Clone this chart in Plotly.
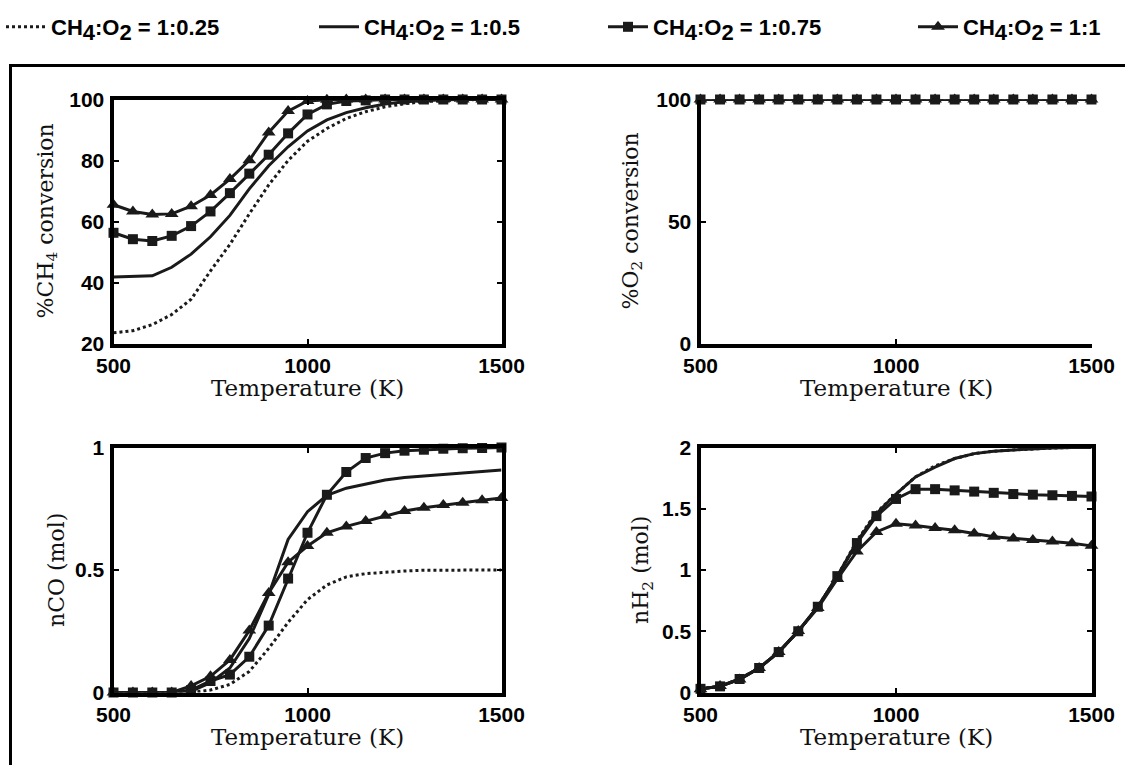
import plotly.graph_objects as go

# ---------------- data ----------------
temperature = [500, 550, 600, 650, 700, 750, 800, 850, 900, 950, 1000,
               1050, 1100, 1150, 1200, 1250, 1300, 1350, 1400, 1450, 1500]

ratios = ["1:0.25", "1:0.5", "1:0.75", "1:1"]

# % CH4 conversion
ch4_r025 = [23.5, 24.2, 26.2, 29.5, 34.5, 43.8, 52.5, 62.5, 72.0, 80.0, 86.3,
            90.5, 93.8, 96.0, 97.6, 98.6, 99.3, 99.7, 99.9, 100.0, 100.0]
ch4_r050 = [41.8, 41.9, 42.2, 45.0, 49.3, 55.0, 62.0, 70.7, 78.3, 84.5, 89.7,
            93.3, 95.7, 97.3, 98.5, 99.3, 99.7, 99.9, 100.0, 100.0, 100.0]
ch4_r075 = [56.3, 54.2, 53.6, 55.3, 58.5, 63.3, 69.3, 75.7, 81.9, 88.9, 95.1,
            98.4, 99.5, 99.7, 100.0, 100.0, 100.0, 100.0, 100.0, 100.0, 100.0]
ch4_r100 = [65.5, 63.3, 62.3, 62.5, 65.0, 68.7, 73.9, 80.1, 89.2, 96.2, 99.5,
            99.9, 100.0, 100.0, 100.0, 100.0, 100.0, 100.0, 100.0, 100.0, 100.0]

# % O2 conversion
o2_r025 = [100.0] * 21
o2_r050 = [100.0] * 21
o2_r075 = [100.0] * 21
o2_r100 = [100.0] * 21

# nCO (mol)
co_r025 = [0.0, 0.0, 0.0, 0.0, 0.0, 0.01, 0.033, 0.086, 0.18, 0.286, 0.379,
           0.439, 0.472, 0.485, 0.492, 0.496, 0.499, 0.5, 0.5, 0.5, 0.5]
co_r050 = [0.0, 0.0, 0.0, 0.0, 0.005, 0.04, 0.10, 0.22, 0.40, 0.625, 0.738,
           0.805, 0.834, 0.851, 0.867, 0.878, 0.884, 0.891, 0.898, 0.903, 0.908]
co_r075 = [0.0, 0.0, 0.0, 0.0, 0.01, 0.047, 0.073, 0.146, 0.273, 0.465, 0.652,
           0.807, 0.90, 0.957, 0.977, 0.987, 0.991, 0.995, 0.997, 0.998, 1.0]
co_r100 = [0.0, 0.0, 0.0, 0.0, 0.027, 0.066, 0.133, 0.253, 0.406, 0.532, 0.598,
           0.652, 0.678, 0.70, 0.721, 0.741, 0.754, 0.765, 0.775, 0.785, 0.794]

# nH2 (mol)
h2_r025 = [0.03, 0.05, 0.11, 0.20, 0.33, 0.50, 0.70, 0.95, 1.24, 1.47, 1.62,
           1.76, 1.85, 1.91, 1.95, 1.97, 1.98, 1.99, 1.995, 2.0, 2.0]
h2_r050 = [0.03, 0.05, 0.11, 0.20, 0.33, 0.50, 0.70, 0.95, 1.23, 1.46, 1.62,
           1.76, 1.84, 1.91, 1.95, 1.97, 1.98, 1.99, 1.995, 2.0, 2.0]
h2_r075 = [0.03, 0.05, 0.11, 0.20, 0.33, 0.50, 0.70, 0.95, 1.22, 1.44, 1.58,
           1.66, 1.66, 1.65, 1.64, 1.63, 1.62, 1.615, 1.61, 1.605, 1.60]
h2_r100 = [0.026, 0.053, 0.106, 0.199, 0.331, 0.503, 0.689, 0.927, 1.152, 1.311, 1.377,
           1.364, 1.343, 1.325, 1.298, 1.272, 1.258, 1.245, 1.232, 1.219, 1.197]

x_ticks = [500, 1000, 1500]
y_ticks_ch4 = [20, 40, 60, 80, 100]
y_ticks_o2 = [0, 50, 100]
y_ticks_co = [0, 0.5, 1]
y_ticks_h2 = [0, 0.5, 1, 1.5, 2]

# ---------------- style ----------------
W, H = 1125, 765
INK = "#1a1a1a"
LW = 3
SANS = "Liberation Sans, Arial, sans-serif"
LEG_SIZE = 22

styles = [
    dict(line=dict(color=INK, width=LW, dash="dot"), mode="lines"),
    dict(line=dict(color=INK, width=LW), mode="lines"),
    dict(line=dict(color=INK, width=LW), mode="lines+markers",
         marker=dict(symbol="square", size=10, color=INK)),
    dict(line=dict(color=INK, width=LW), mode="lines+markers",
         marker=dict(symbol="triangle-up", size=12, color=INK)),
]


def sub_full(s):
    return "<sub><span style='font-size:%dpx'>%s</span></sub>" % (LEG_SIZE, s)


series_names = ["CH" + sub_full("4") + ":O" + sub_full("2") + " = " + r
                for r in ratios]


def px_x(p):
    return p / W


def px_y(p):
    return 1 - p / H


col1 = [px_x(113.5), px_x(501.5)]
col2 = [px_x(700.5), px_x(1091.5)]
row1 = [px_y(343.5), px_y(99.5)]
row2 = [px_y(692.5), px_y(447.5)]

fig = go.Figure()

legend_ids = ["legend", "legend2", "legend3", "legend4"]

panels = [
    ("x", "y", [ch4_r025, ch4_r050, ch4_r075, ch4_r100], [0, 1, 2, 3]),
    ("x2", "y2", [o2_r025, o2_r050, o2_r075, o2_r100], [0, 1, 3, 2]),
    ("x3", "y3", [co_r025, co_r050, co_r075, co_r100], [0, 1, 2, 3]),
    ("x4", "y4", [h2_r025, h2_r050, h2_r075, h2_r100], [0, 1, 2, 3]),
]

for pi, (xa, ya, data, order) in enumerate(panels):
    for k in order:
        fig.add_trace(go.Scatter(
            x=temperature, y=data[k], name=series_names[k],
            xaxis=xa, yaxis=ya, showlegend=(pi == 0), legend=legend_ids[k],
            cliponaxis=False, hoverinfo="skip", **styles[k]))

tickfont = dict(family=SANS, size=21, color="#000", weight="bold")


def xaxis(domain, anchor, mirror=True):
    return dict(domain=domain, anchor=anchor, range=[500, 1500],
                tickvals=x_ticks, ticks="inside", ticklen=5, tickwidth=2,
                tickcolor="#000", showline=True, linewidth=4, linecolor="#000",
                mirror="allticks" if mirror else False, showgrid=False,
                zeroline=False, tickfont=tickfont, ticklabelstandoff=0,
                automargin=False, fixedrange=True)


def yaxis(domain, anchor, rng, vals, mirror=True):
    return dict(domain=domain, anchor=anchor, range=rng, tickvals=vals,
                ticks="inside", ticklen=5, tickwidth=2, tickcolor="#000",
                showline=True, linewidth=4, linecolor="#000",
                mirror="allticks" if mirror else False, showgrid=False,
                zeroline=False, tickfont=tickfont, ticklabelstandoff=1,
                automargin=False, fixedrange=True)


leg_font = dict(family=SANS, size=LEG_SIZE, color="#000", weight="bold")
legend_x_px = [1, 314, 603, 913]


def legend_box(xp):
    return dict(orientation="h", x=px_x(xp), xanchor="left", y=px_y(6),
                yanchor="top", itemwidth=40, font=leg_font,
                bgcolor="rgba(0,0,0,0)", borderwidth=0)


fig.update_layout(
    template="none",
    width=W, height=H, autosize=False,
    margin=dict(l=0, r=0, t=0, b=0, pad=0, autoexpand=False),
    paper_bgcolor="white", plot_bgcolor="white",
    xaxis=xaxis(col1, "y"),
    yaxis=yaxis(row1, "x", [20, 100], y_ticks_ch4),
    xaxis2=xaxis(col2, "y2", mirror=False),
    yaxis2=yaxis(row1, "x2", [0, 100], y_ticks_o2, mirror=False),
    xaxis3=xaxis(col1, "y3"),
    yaxis3=yaxis(row2, "x3", [0, 1], y_ticks_co),
    xaxis4=xaxis(col2, "y4"),
    yaxis4=yaxis(row2, "x4", [0, 2], y_ticks_h2),
    legend=legend_box(legend_x_px[0]),
    legend2=legend_box(legend_x_px[1]),
    legend3=legend_box(legend_x_px[2]),
    legend4=legend_box(legend_x_px[3]),
)

# outer frame of the figure panel
fig.add_shape(type="rect", xref="paper", yref="paper",
              x0=px_x(10.5), x1=1.05, y0=-0.05, y1=px_y(65.5),
              line=dict(color="#000", width=3), fillcolor="rgba(0,0,0,0)",
              layer="below")

xt_font = dict(family="DejaVu Serif, serif", size=23, color="#111")
yt_font = dict(family="DejaVu Serif, serif", size=22, color="#111")
titles = [
    ("Temperature (K)", (col1[0] + col1[1]) / 2, px_y(388), 0, xt_font),
    ("Temperature (K)", (col2[0] + col2[1]) / 2, px_y(388), 0, xt_font),
    ("Temperature (K)", (col1[0] + col1[1]) / 2, px_y(737), 0, xt_font),
    ("Temperature (K)", (col2[0] + col2[1]) / 2, px_y(737), 0, xt_font),
    ("%CH<sub>4</sub> conversion", px_x(47), (row1[0] + row1[1]) / 2, -90, yt_font),
    ("%O<sub>2</sub> conversion", px_x(632), (row1[0] + row1[1]) / 2, -90, yt_font),
    ("nCO (mol)", px_x(56), (row2[0] + row2[1]) / 2, -90, yt_font),
    ("nH<sub>2</sub> (mol)", px_x(642), (row2[0] + row2[1]) / 2, -90, yt_font),
]
for text, x, y, ang, f in titles:
    fig.add_annotation(text=text, x=x, y=y, xref="paper", yref="paper",
                       showarrow=False, textangle=ang, font=f, borderpad=0,
                       xanchor="center", yanchor="middle")

fig.write_html("out.html", config={"displayModeBar": False},
               post_script="document.body.style.margin='0';"
                           "document.body.style.overflow='hidden';")
